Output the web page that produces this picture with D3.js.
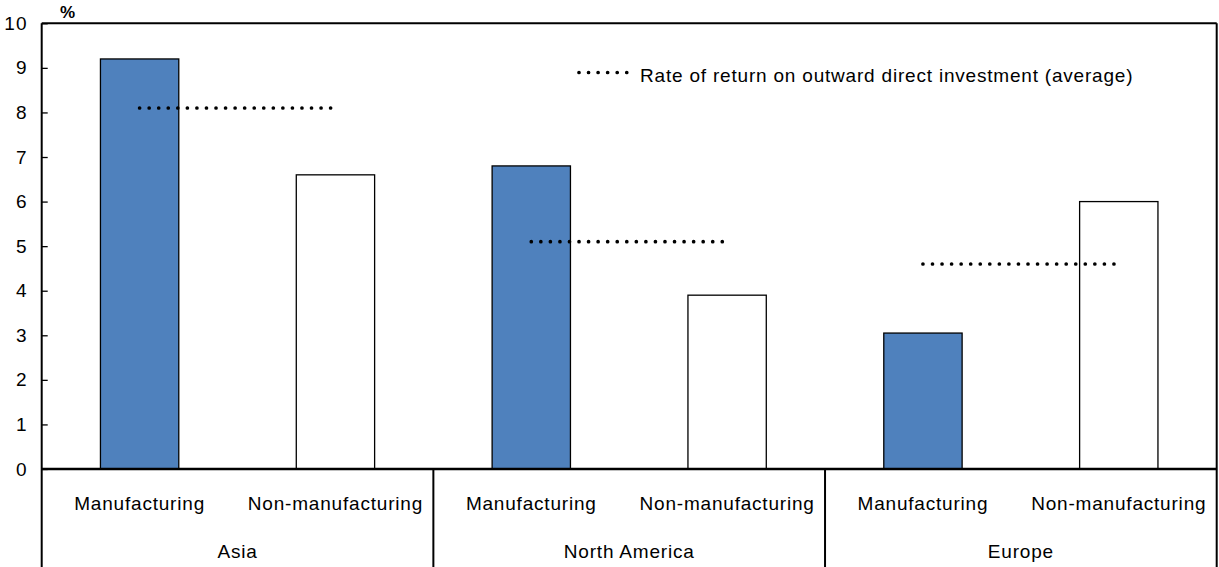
<!DOCTYPE html>
<html>
<head>
<meta charset="utf-8">
<script src="https://cdn.jsdelivr.net/npm/d3@7"></script>
<style>
  html, body { margin: 0; padding: 0; background: #fff; }
  svg { display: block; font-family: "Liberation Sans", Arial, sans-serif; }
</style>
</head>
<body>
<svg id="chart" width="1219" height="567"></svg>
<script>
// Rate of return on outward direct investment, by region and industry (%)
const regions = ["Asia", "North America", "Europe"];
const industries = ["Manufacturing", "Non-manufacturing"];
const manufacturing = [9.2, 6.8, 3.05];
const nonManufacturing = [6.6, 3.9, 6.0];
const regionAverage = [8.1, 5.1, 4.6];
const yTicks = [0, 1, 2, 3, 4, 5, 6, 7, 8, 9, 10];
const legendLabel = "Rate of return on outward direct investment (average)";

const svg = d3.select("#chart");
const plot = { left: 41.7, right: 1216.7, top: 23.3, bottom: 469 };
const H = 567;
const FS = 19, LS = 0.8;

const y = d3.scaleLinear().domain([0, 10]).range([plot.bottom, plot.top]);
const xRegion = d3.scaleBand().domain(regions).range([plot.left, plot.right]).padding(0);
const xInd = d3.scaleBand().domain(industries).range([0, xRegion.bandwidth()]).padding(0);
const barW = xInd.bandwidth() * 0.4;

const series = { "Manufacturing": manufacturing, "Non-manufacturing": nonManufacturing };
const fills = { "Manufacturing": "#4F81BD", "Non-manufacturing": "#ffffff" };

const bars = [];
regions.forEach((r, i) => industries.forEach(k => bars.push({ region: r, ind: k, value: series[k][i] })));
const cx = d => xRegion(d.region) + xInd(d.ind) + xInd.bandwidth() / 2;

// Bars
svg.append("g").selectAll("rect").data(bars).join("rect")
  .attr("x", d => cx(d) - barW / 2)
  .attr("y", d => y(d.value))
  .attr("width", barW)
  .attr("height", d => y(0) - y(d.value))
  .attr("fill", d => fills[d.ind])
  .attr("stroke", "#000")
  .attr("stroke-width", 1.3);

// Average lines: dotted, from one bar centre to the other
const dotStyle = sel => sel.attr("stroke", "#000").attr("stroke-width", 3.7)
  .attr("stroke-linecap", "round").attr("stroke-dasharray", "0,9.55").attr("fill", "none");

svg.append("g").selectAll("line").data(regions).join("line")
  .attr("x1", r => xRegion(r) + xInd("Manufacturing") + xInd.bandwidth() / 2)
  .attr("x2", r => xRegion(r) + xInd("Non-manufacturing") + xInd.bandwidth() / 2)
  .attr("y1", (r, i) => y(regionAverage[i]))
  .attr("y2", (r, i) => y(regionAverage[i]))
  .call(dotStyle);

// Y axis with inward ticks
const yAxis = svg.append("g").attr("transform", `translate(${plot.left},0)`)
  .call(d3.axisLeft(y).tickValues(yTicks).tickSize(-6).tickPadding(14).tickFormat(d3.format("d")));
yAxis.select(".domain").remove();
yAxis.selectAll("line").attr("stroke", "#000").attr("stroke-width", 1.3);
yAxis.selectAll("text").attr("font-size", FS).attr("fill", "#000").attr("letter-spacing", 1.2)
  .attr("font-family", "'Liberation Sans', Arial, sans-serif");

// Frame: left axis, top, right, baseline
const frame = svg.append("g").attr("stroke", "#000").attr("stroke-width", 2);
frame.append("line").attr("x1", plot.left).attr("x2", plot.left).attr("y1", plot.top).attr("y2", H);
frame.append("line").attr("x1", plot.left).attr("x2", plot.right).attr("y1", plot.top).attr("y2", plot.top);
frame.append("line").attr("x1", plot.right).attr("x2", plot.right).attr("y1", plot.top).attr("y2", H);
frame.append("line").attr("x1", plot.left).attr("x2", plot.right).attr("y1", y(0)).attr("y2", y(0)).attr("stroke-width", 2.5);

// Region separators in the category area
svg.append("g").selectAll("line").data(regions.slice(1)).join("line")
  .attr("x1", r => xRegion(r)).attr("x2", r => xRegion(r))
  .attr("y1", y(0)).attr("y2", H)
  .attr("stroke", "#000").attr("stroke-width", 2);

// Industry labels
svg.append("g").selectAll("text").data(bars).join("text")
  .attr("x", cx).attr("y", 510)
  .attr("text-anchor", "middle").attr("font-size", FS).attr("letter-spacing", LS)
  .text(d => d.ind);

// Region labels
svg.append("g").selectAll("text").data(regions).join("text")
  .attr("x", r => xRegion(r) + xRegion.bandwidth() / 2).attr("y", 558)
  .attr("text-anchor", "middle").attr("font-size", FS).attr("letter-spacing", LS)
  .text(r => r);

// Unit label
svg.append("text").attr("x", 60).attr("y", 18).attr("font-size", 17).attr("font-weight", "bold").text("%");

// Legend
const lg = svg.append("g").attr("transform", "translate(579,72.5)");
lg.append("line").attr("x1", 0).attr("x2", 51).attr("y1", 0).attr("y2", 0).call(dotStyle);
lg.append("text").attr("x", 61).attr("y", 9).attr("font-size", FS).attr("letter-spacing", LS)
  .text(legendLabel);
</script>
</body>
</html>
